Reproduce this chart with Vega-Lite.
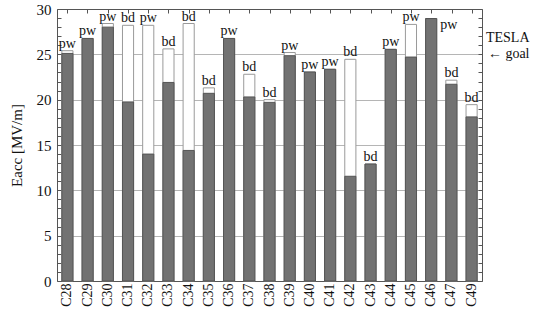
{
  "$schema": "https://vega.github.io/schema/vega-lite/v6.json",
  "width": 425,
  "height": 272,
  "autosize": "none",
  "padding": {"left": 57, "top": 9, "right": 54, "bottom": 36},
  "background": "white",
  "config": {
    "view": {"stroke": null},
    "font": "Liberation Serif",
    "axis": {"labelFont": "Liberation Serif", "titleFont": "Liberation Serif", "domainColor": "#555", "tickColor": "#555", "labelColor": "#111", "titleColor": "#111", "titleFontWeight": "normal"},
    "axisLeft": {"labelFontSize": 15, "labelPadding": 10, "tickSize": -4, "labelOverlap": false, "titleFontSize": 15, "titlePadding": 12, "grid": false}
  },
  "data": {"values": [
    {"cav": "C28", "lim": 25.1, "max": 25.4, "note": "pw"},
    {"cav": "C29", "lim": 26.75, "max": 26.75, "note": "pw"},
    {"cav": "C30", "lim": 28.0, "max": 28.4, "note": "pw"},
    {"cav": "C31", "lim": 19.75, "max": 28.2, "note": "bd"},
    {"cav": "C32", "lim": 14.0, "max": 28.2, "note": "pw"},
    {"cav": "C33", "lim": 21.9, "max": 25.6, "note": "bd"},
    {"cav": "C34", "lim": 14.4, "max": 28.4, "note": "bd"},
    {"cav": "C35", "lim": 20.7, "max": 21.3, "note": "bd"},
    {"cav": "C36", "lim": 26.75, "max": 26.75, "note": "pw"},
    {"cav": "C37", "lim": 20.3, "max": 22.8, "note": "bd"},
    {"cav": "C38", "lim": 19.7, "max": 20.0, "note": "bd"},
    {"cav": "C39", "lim": 24.85, "max": 25.2, "note": "pw"},
    {"cav": "C40", "lim": 23.05, "max": 23.05, "note": "pw"},
    {"cav": "C41", "lim": 23.35, "max": 23.35, "note": "pw"},
    {"cav": "C42", "lim": 11.55, "max": 24.45, "note": "bd"},
    {"cav": "C43", "lim": 12.9, "max": 12.9, "note": "bd"},
    {"cav": "C44", "lim": 25.55, "max": 25.55, "note": "pw"},
    {"cav": "C45", "lim": 24.7, "max": 28.3, "note": "pw"},
    {"cav": "C46", "lim": 28.95, "max": 28.95, "note": "pw"},
    {"cav": "C47", "lim": 21.7, "max": 22.15, "note": "bd"},
    {"cav": "C49", "lim": 18.1, "max": 19.45, "note": "bd"}
  ]},
  "layer": [
    {
      "layer": [
        {
          "mark": {"type": "bar", "fill": "white", "stroke": "#9a9a9a", "strokeWidth": 1},
          "encoding": {
            "x": {"field": "cav", "type": "nominal", "sort": null,
              "scale": {"paddingInner": 0.45, "paddingOuter": 0.24},
              "axis": {"orient": "bottom", "title": null, "labelAngle": -90, "labelAlign": "right", "labelBaseline": "middle", "labelFontSize": 14, "labelPadding": 6, "tickSize": -4, "domainColor": "#555"}},
            "y": {"field": "max", "type": "quantitative",
              "scale": {"domain": [0, 30], "nice": false},
              "axis": {"orient": "left", "title": "Eacc [MV/m]",
                "values": [0,1,2,3,4,5,6,7,8,9,10,11,12,13,14,15,16,17,18,19,20,21,22,23,24,25,26,27,28,29,30],
                "labelExpr": "datum.value == 0 || datum.value == 5 || datum.value == 10 || datum.value == 15 || datum.value == 20 || datum.value == 25 || datum.value == 30 ? format(datum.value, 'd') : ''"}}
          }
        },
        {
          "mark": {"type": "bar", "fill": "#727272", "stroke": "#555555", "strokeWidth": 1},
          "encoding": {
            "x": {"field": "cav", "type": "nominal", "sort": null},
            "y": {"field": "lim", "type": "quantitative",
              "axis": {"orient": "left", "title": "Eacc [MV/m]",
                "values": [0,1,2,3,4,5,6,7,8,9,10,11,12,13,14,15,16,17,18,19,20,21,22,23,24,25,26,27,28,29,30],
                "labelExpr": "datum.value == 0 || datum.value == 5 || datum.value == 10 || datum.value == 15 || datum.value == 20 || datum.value == 25 || datum.value == 30 ? format(datum.value, 'd') : ''"}}
          }
        },
        {
          "transform": [{"filter": "datum.cav != 'C46'"}],
          "mark": {"type": "text", "baseline": "alphabetic", "dy": -3, "fontSize": 14, "font": "Liberation Serif", "color": "#111"},
          "encoding": {
            "x": {"field": "cav", "type": "nominal", "sort": null},
            "y": {"field": "max", "type": "quantitative",
              "axis": {"orient": "left", "title": "Eacc [MV/m]",
                "values": [0,1,2,3,4,5,6,7,8,9,10,11,12,13,14,15,16,17,18,19,20,21,22,23,24,25,26,27,28,29,30],
                "labelExpr": "datum.value == 0 || datum.value == 5 || datum.value == 10 || datum.value == 15 || datum.value == 20 || datum.value == 25 || datum.value == 30 ? format(datum.value, 'd') : ''"}},
            "text": {"field": "note"}
          }
        },
        {
          "transform": [{"filter": "datum.cav == 'C46'"}],
          "mark": {"type": "text", "align": "left", "baseline": "top", "dx": 9, "dy": -1, "fontSize": 14, "font": "Liberation Serif", "color": "#111"},
          "encoding": {
            "x": {"field": "cav", "type": "nominal", "sort": null},
            "y": {"field": "max", "type": "quantitative",
              "axis": {"orient": "left", "title": "Eacc [MV/m]",
                "values": [0,1,2,3,4,5,6,7,8,9,10,11,12,13,14,15,16,17,18,19,20,21,22,23,24,25,26,27,28,29,30],
                "labelExpr": "datum.value == 0 || datum.value == 5 || datum.value == 10 || datum.value == 15 || datum.value == 20 || datum.value == 25 || datum.value == 30 ? format(datum.value, 'd') : ''"}},
            "text": {"field": "note"}
          }
        }
      ]
    },
    {
      "mark": {"type": "point", "opacity": 0},
      "encoding": {
        "x": {"field": "cav", "type": "nominal", "sort": null,
          "scale": {"paddingInner": 0.45, "paddingOuter": 0.24},
          "axis": {"orient": "top", "title": null, "labels": false, "tickSize": -4, "domainColor": "#555"}},
        "y": {"field": "max", "type": "quantitative",
          "scale": {"domain": [0, 30], "nice": false},
          "axis": {"orient": "right", "title": null,
            "values": [0,1,2,3,4,5,6,7,8,9,10,11,12,13,14,15,16,17,18,19,20,21,22,23,24,25,26,27,28,29,30],
            "labelExpr": "datum.value == 25 ? ['TESLA', '\u2190 goal'] : ''",
            "labelOverlap": false,
            "labelAlign": "right", "labelBaseline": "middle", "labelFontSize": 14, "labelPadding": 51, "labelOffset": -17, "labelLineHeight": 16,
            "tickSize": -4,
            "grid": true, "gridColor": "#b5b5b5", "gridWidth": 1,
            "gridOpacity": {"condition": {"test": "datum.value == 5 || datum.value == 10 || datum.value == 15 || datum.value == 20 || datum.value == 25", "value": 1}, "value": 0}}}
      }
    }
  ],
  "resolve": {"scale": {"y": "independent", "x": "independent"}}
}
